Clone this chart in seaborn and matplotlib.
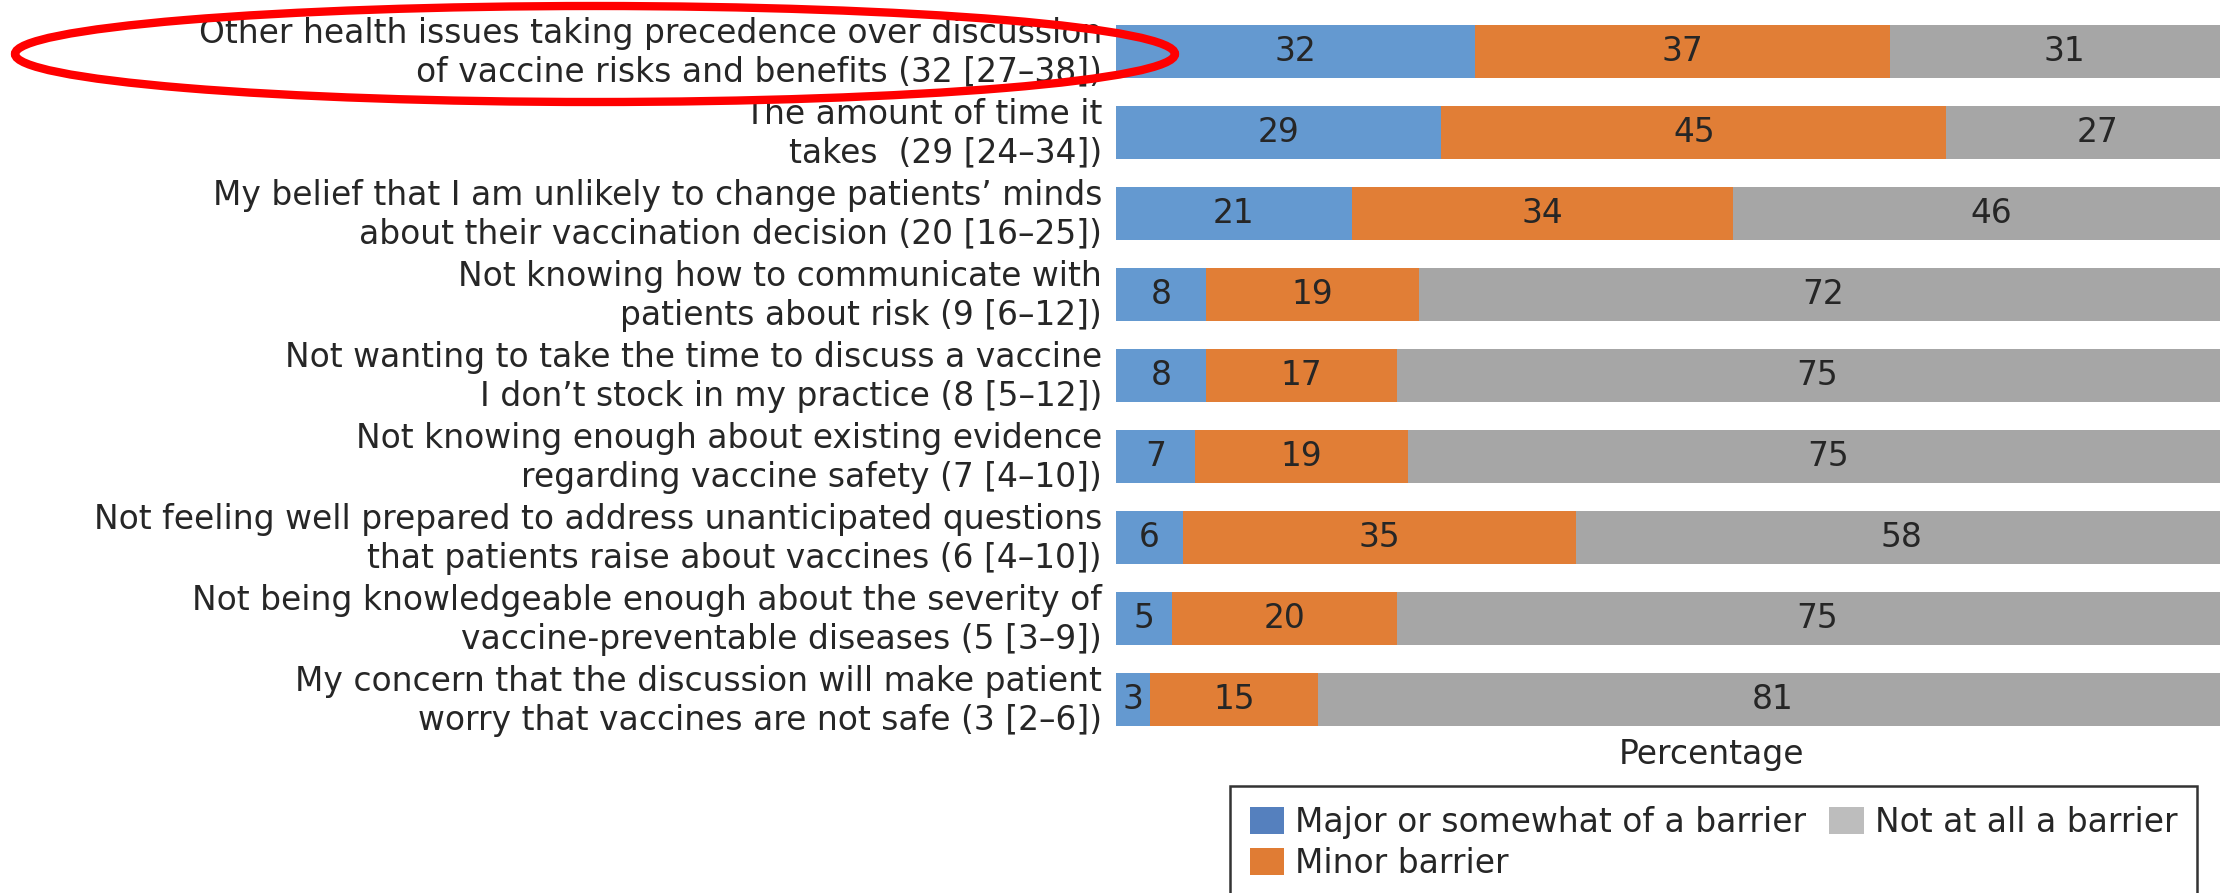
import matplotlib
matplotlib.use("Agg")
import matplotlib.pyplot as plt
from matplotlib.patches import Patch, Ellipse
from matplotlib.transforms import ScaledTranslation
import seaborn as sns
import pandas as pd
import numpy as np

categories = [
    "Other health issues taking precedence over discussion\nof vaccine risks and benefits (32 [27\u201338])",
    "The amount of time it\ntakes  (29 [24\u201334])",
    "My belief that I am unlikely to change patients\u2019 minds\nabout their vaccination decision (20 [16\u201325])",
    "Not knowing how to communicate with\npatients about risk (9 [6\u201312])",
    "Not wanting to take the time to discuss a vaccine\nI don\u2019t stock in my practice (8 [5\u201312])",
    "Not knowing enough about existing evidence\nregarding vaccine safety (7 [4\u201310])",
    "Not feeling well prepared to address unanticipated questions\nthat patients raise about vaccines (6 [4\u201310])",
    "Not being knowledgeable enough about the severity of\nvaccine-preventable diseases (5 [3\u20139])",
    "My concern that the discussion will make patient\nworry that vaccines are not safe (3 [2\u20136])",
]
major = [32, 29, 21, 8, 8, 7, 6, 5, 3]
minor = [37, 45, 34, 19, 17, 19, 35, 20, 15]
not_at_all = [31, 27, 46, 72, 75, 75, 58, 75, 81]
series_names = ["Major or somewhat of a barrier", "Minor barrier", "Not at all a barrier"]

sns.set_theme(style="white")
plt.rcParams["font.family"] = ["DejaVu Sans"]
FS = 23.7
TXT = "#262626"

df = pd.DataFrame({"label": categories, "major": major, "minor": minor, "none": not_at_all})
df["c1"] = df["major"]
df["c2"] = df["major"] + df["minor"]
df["c3"] = df["major"] + df["minor"] + df["none"]

BLUE = "#6499D0"
ORANGE = "#E17E36"
GRAY = "#A6A6A6"

fig = plt.figure(figsize=(22.2, 8.93), dpi=100)
ax = fig.add_axes([1116 / 2220, 1 - 740 / 893, 1122 / 2220, 729 / 893])

bw = 0.655
sns.barplot(data=df, x="c3", y="label", color=GRAY, width=bw, linewidth=0, saturation=1, orient="h", ax=ax, errorbar=None)
sns.barplot(data=df, x="c2", y="label", color=ORANGE, width=bw, linewidth=0, saturation=1, orient="h", ax=ax, errorbar=None)
sns.barplot(data=df, x="c1", y="label", color=BLUE, width=bw, linewidth=0, saturation=1, orient="h", ax=ax, errorbar=None)

ax.set_xlim(0, 100)
ax.set_ylim(len(categories) - 0.5, -0.5)
ax.set_xticks([])
for s in ax.spines.values():
    s.set_visible(False)
ax.tick_params(axis="y", length=0, pad=10, labelsize=FS, labelcolor=TXT)
shift = ScaledTranslation(0, 0.05, fig.dpi_scale_trans)
for t in ax.get_yticklabels():
    t.set_multialignment("right")
    t.set_linespacing(1.22)
    t.set_transform(t.get_transform() + shift)
ax.set_ylabel("")
ax.set_xlabel("Percentage", fontsize=FS, color=TXT)
ax.xaxis.set_label_coords(0.531, 0.003)

for i in range(len(categories)):
    segs = [(0, major[i]), (major[i], major[i] + minor[i]),
            (major[i] + minor[i], major[i] + minor[i] + not_at_all[i])]
    vals = [major[i], minor[i], not_at_all[i]]
    for (a, b), v in zip(segs, vals):
        ax.text((a + b) / 2, i, str(v), ha="center", va="center", fontsize=FS, color=TXT)

handles = [Patch(facecolor="#5580BE", edgecolor="none"),
           Patch(facecolor="#E07C34", edgecolor="none"),
           Patch(facecolor="#BDBDBD", edgecolor="none")]
leg = fig.legend(handles, series_names, loc="upper left",
                 bbox_to_anchor=(1230 / 2220, 1 - 786 / 893), bbox_transform=fig.transFigure,
                 ncol=2, fontsize=FS, frameon=True, fancybox=False, borderaxespad=0,
                 handlelength=1.05, handleheight=0.87, handletextpad=0.33, columnspacing=0.7,
                 labelspacing=0.24, borderpad=0.6)
leg.get_frame().set_edgecolor("black")
leg.get_frame().set_linewidth(1.8)
for t in leg.get_texts():
    t.set_color(TXT)

ell = Ellipse((595 / 2220, 1 - 54 / 893), 1160 / 2220, 96 / 893, transform=fig.transFigure,
              fill=False, edgecolor="#FF0000", linewidth=6, zorder=10)
fig.add_artist(ell)

fig.savefig("out.png", dpi=100)
